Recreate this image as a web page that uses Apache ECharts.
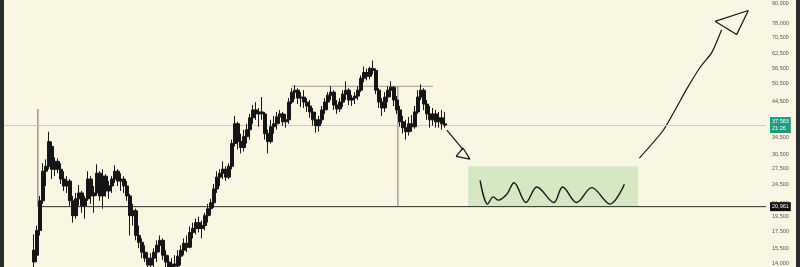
<!DOCTYPE html>
<html><head><meta charset="utf-8">
<script src="https://cdn.jsdelivr.net/npm/echarts@6/dist/echarts.min.js"></script>
<style>
html,body{margin:0;padding:0;background:#2a2a2a;width:800px;height:267px;overflow:hidden}
#c{position:absolute;left:4px;top:0;width:792px;height:267px;background:#faf6e4}
</style></head><body><div id="c"></div>
<script>
// ---- data ----
const firstDay = 10;
const opens = [14100,14810,17680,21850,27010,27980,32230,27390,28990,27390,25530,24300,25170,21850,19650,22170,23120,21090,22170,25530,22640,23120,26630,22640,26070,23450,24300,25530,27010,25170,25530,24300,22640,19650,20360,17060,16240,15130,14500,13800,14500,15130,15900,16470,14810,14100,13510,13900,13700,14710,15350,16120,15680,17430,17930,18700,17930,18310,19650,20650,21540,23790,25890,26630,27390,25890,27980,32920,37920,33390,32000,34590,36350,39570,41870,40700,41280,40700,35340,33390,37130,37920,39850,40700,38460,39010,44300,47550,48230,45580,45900,44300,43070,41280,39010,37390,39010,41870,44300,46550,47550,43370,42170,44300,46880,48230,44940,45580,46230,48230,52500,54760,53240,56340,55550,48230,44300,42470,45900,48230,49260,44940,41870,38460,36870,35840,37920,37130,41280,45900,48230,43680,40700,39010,40700,38460,39570,37920];
const closes = [15350,17680,21850,27010,27980,33390,27390,28990,27390,25530,24300,25170,21850,19650,22170,23120,21090,22170,25530,22640,23120,26630,22640,26070,23450,24300,25530,27010,25170,25530,24300,22640,19650,20360,17060,16240,15130,14500,13800,14500,15130,15900,16470,14810,14100,13510,13900,13700,14710,15350,16120,15680,17430,17930,18700,17930,18310,19650,20650,21540,23790,25890,26630,27390,25890,27980,32920,37920,33390,32000,34590,36350,39570,41870,40700,41280,40700,35340,33390,37130,37920,39850,40700,38460,39010,44300,47550,48230,45580,45900,44300,43070,41280,39010,37390,39010,41870,44300,46550,47550,43370,42170,44300,46880,48230,44940,45580,46230,48230,52500,54760,53240,56340,55550,48230,44300,42470,45900,48230,49260,44940,41870,38460,36870,35840,37920,37130,41280,45900,48230,43680,40700,39010,40700,38460,39570,37920,37583];
const lows = [13320,14100,17060,21390,24300,27390,25530,26070,26630,24640,23450,23120,21090,18700,19240,21090,20070,19240,21850,21390,20070,22640,21850,20650,22480,22170,23120,24820,24300,23450,23120,21850,17060,18310,16470,15570,14500,14100,13130,13320,13130,14100,15130,14300,13130,12950,12950,12950,13130,13800,14810,15130,15570,16700,17190,17430,16700,17680,18700,19650,20790,23120,24300,25530,25170,25530,27390,32230,31550,30670,31110,32920,33870,37920,39010,37130,39010,33870,30670,32920,35340,36350,37920,37390,36870,37920,43680,45250,43680,42770,42470,41280,39570,37390,35590,35840,37920,40700,41870,44940,41870,40700,41280,42770,44940,43370,43070,43680,44940,47550,51030,51760,52130,53990,46880,42470,40130,41280,44300,45900,43070,40700,37130,35340,33870,34840,35840,36610,40700,44940,41870,39010,36870,37390,36870,36870,36350,36870];
const highs = [17190,18310,22640,28580,29400,35840,33390,29820,29610,28580,27010,26070,25530,22640,23120,24470,23450,22640,27010,26070,24300,28380,27010,27390,26440,25170,26070,28180,27390,26630,26070,25170,22960,21390,20650,18310,16700,15900,15130,15030,15570,16470,17060,16700,15350,14810,14500,14810,15350,15900,16700,17060,18180,18700,19240,19510,18970,20070,21390,22170,24640,27010,27390,28990,27980,28580,33870,40130,38460,35340,36350,37920,40700,43370,44300,42470,45900,41280,36350,39010,40130,41280,41870,41280,40700,45580,48910,49960,48910,47550,48230,45580,44940,42470,41280,40130,43070,45580,47550,49610,48230,44940,45580,48230,51400,48910,46550,47550,49610,53610,57140,56340,57140,59610,56340,48910,45580,47550,49610,51400,49610,46230,43070,40130,39010,39850,40410,43070,48230,50310,48910,44940,43070,42470,41870,41280,41870,41280];
const tickValues = [14000,15500,17500,19500,21500,24500,27500,30500,34500,38500,44500,50500,56500,62500,70500,78000,90000];
const lastPrice = 37583, lastTimer = '21:26';
const supportLevel = 20961;
const rangeHigh = 49610;
const startLine = { x: 11.3, top: 42170 };
const rangeLineX = [95.7, 143];
const dropLineX = 131.3;
const boxX = [154.7, 211.3], boxY = [20961, 27980];
const waveX = [158.7,161.2,163.1,164.8,167.6,170,174,177.6,183.3,186.2,190.9,195.9,202,206.8];
const waveY = [25300,21350,22480,21960,22910,24870,21590,24130,21590,24130,21590,24010,21350,24590];
const downShaftX = [147.6,153.1], downShaftY = [36270,31490];
const downHeadX = [150.7,155.3,153,150.7], downHeadY = [30030,29460,31890,30030];
const upShaftX = [211.8,219.8,227.6,232,235.9,239.2], upShaftY = [29670,36270,48670,56740,63090,74370];
const upHeadX = [237,248.1,244.2,237], upHeadY = [78920,85300,71780,78920];

// ---- chart ----
const zip = (xs, ys) => xs.map((x, i) => [x, ys[i]]);
const candles = opens.map((o, i) => [firstDay + i, o, closes[i], lows[i], highs[i]]);
const fmt = v => Math.round(v).toLocaleString('en-US');
const ink = '#151515';
function lineSeries(data, color, width, smooth, extra) {
  return Object.assign({
    type: 'line', data: data, symbol: 'none', silent: true, smooth: smooth || false,
    lineStyle: { color: color, width: width }, z: 4
  }, extra || {});
}
const chart = echarts.init(document.getElementById('c'), null, { renderer: 'canvas' });
chart.setOption({
  animation: false,
  backgroundColor: '#faf6e4',
  grid: { left: 0, right: 30, top: -2, bottom: 0 },
  xAxis: { type: 'value', min: 0, max: 254, show: false },
  yAxis: {
    type: 'log', logBase: 10, min: 13610, max: 91000, position: 'right',
    axisLine: { show: false }, axisTick: { show: false }, splitLine: { show: false },
    axisLabel: { customValues: tickValues, formatter: v => fmt(v), fontSize: 5.5,
      color: '#555', margin: 6, fontFamily: 'Liberation Sans' }
  },
  series: [
    lineSeries(zip([startLine.x, 254], [supportLevel, supportLevel]), '#2a2a2a', 1, false, {
      z: 3,
      endLabel: { show: true, formatter: fmt(supportLevel), backgroundColor: '#111', color: '#fff',
        fontSize: 5.5, fontFamily: 'Liberation Sans', padding: [2, 2, 1, 2], distance: 4 },
      markArea: { silent: true, itemStyle: { color: '#d5e8c2' },
        data: [[{ coord: [boxX[0], boxY[1]] }, { coord: [boxX[1], boxY[0]] }]] }
    }),
    lineSeries(zip([startLine.x, startLine.x], [startLine.top, supportLevel]), '#6e6a60', 1),
    lineSeries(zip(rangeLineX, [rangeHigh, rangeHigh]), '#a39a86', 1),
    lineSeries(zip([dropLineX, dropLineX], [rangeHigh, supportLevel]), '#7a766c', 1),
    {
      type: 'candlestick', data: candles, encode: { x: 0, y: [1, 2, 3, 4] }, barWidth: 2.6, z: 5,
      itemStyle: { color: ink, color0: ink, borderColor: ink, borderColor0: ink, borderWidth: 1 },
      markLine: {
        silent: true, symbol: 'none',
        lineStyle: { color: '#a6dccb', type: 'solid', width: 1 },
        label: { show: true, position: 'end', formatter: fmt(lastPrice) + '\n' + lastTimer,
          backgroundColor: '#1e9c82', color: '#fff', fontSize: 5.5, lineHeight: 7,
          fontFamily: 'Liberation Sans', padding: [1, 2, 1, 2], distance: 4 },
        data: [{ yAxis: lastPrice }]
      }
    },
    lineSeries(zip(waveX, waveY), ink, 1.4, 0.35),
    lineSeries(zip(downShaftX, downShaftY), ink, 1.2),
    lineSeries(zip(downHeadX, downHeadY), ink, 1.2),
    lineSeries(zip(upShaftX, upShaftY), ink, 1.2, 0.2),
    lineSeries(zip(upHeadX, upHeadY), ink, 1.2)
  ]
});
</script></body></html>
